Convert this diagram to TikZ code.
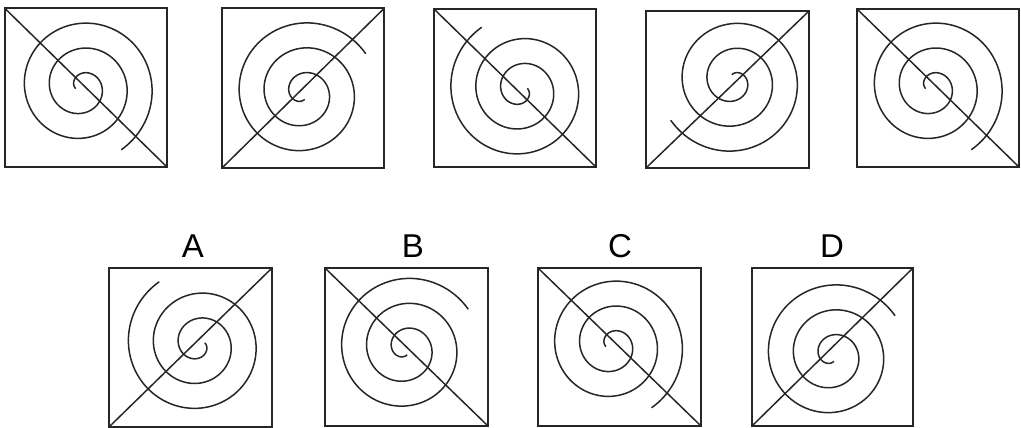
\documentclass[tikz,border=0pt]{standalone}
\usepackage{fontspec}
\setmainfont{Liberation Sans}
\tikzset{
  framebox/.style={draw=black!85, line width=2pt},
  diag/.style={draw=black!85, line width=1.5pt},
  spiralline/.style={draw=black!85, line width=1.5pt},
  lettr/.style={font=\fontsize{33}{33}\selectfont, anchor=base, inner sep=0pt}
}
\newcommand{\myspiral}[3]{%
  \draw[spiralline] plot[domain=-915:58, samples=300, variable=\t]
    ({#1 + (\t+1008)/360*25*cos(\t-90*#3)}, {#2 + (\t+1008)/360*25*sin(\t-90*#3)});
}
\begin{document}
\begin{tikzpicture}[x=1pt,y=-1pt]
\useasboundingbox (0,0) rectangle (1021,428);
% box 1
\coordinate (b1a) at (5,8.5); \coordinate (b1b) at (167,167);
\draw[framebox] (b1a) rectangle (b1b);
\draw[diag] (b1a) -- (b1b);
\myspiral{82}{87}{0}
% box 2
\coordinate (b2a) at (222,8.5); \coordinate (b2b) at (384,168);
\draw[framebox] (b2a) rectangle (b2b);
\draw[diag] (b2a |- b2b) -- (b2b |- b2a);
\myspiral{303}{93}{1}
% box 3
\coordinate (b3a) at (434,9); \coordinate (b3b) at (596,167);
\draw[framebox] (b3a) rectangle (b3b);
\draw[diag] (b3a) -- (b3b);
\myspiral{521}{90}{2}
% box 4
\coordinate (b4a) at (646,11); \coordinate (b4b) at (809,168);
\draw[framebox] (b4a) rectangle (b4b);
\draw[diag] (b4a |- b4b) -- (b4b |- b4a);
\myspiral{733.5}{81}{3}
% box 5
\coordinate (b5a) at (857,9); \coordinate (b5b) at (1019,167);
\draw[framebox] (b5a) rectangle (b5b);
\draw[diag] (b5a) -- (b5b);
\myspiral{932}{87}{0}
% A
\coordinate (bAa) at (109,268); \coordinate (bAb) at (272,427);
\draw[framebox] (bAa) rectangle (bAb);
\draw[diag] (bAa |- bAb) -- (bAb |- bAa);
\myspiral{198.5}{344.5}{2}
\node[lettr] (lA) at (193,257) {A};
% B
\coordinate (bBa) at (325,268); \coordinate (bBb) at (488,426);
\draw[framebox] (bBa) rectangle (bBb);
\draw[diag] (bBa) -- (bBb);
\myspiral{405.5}{348.5}{1}
\node[lettr] (lB) at (413,257) {B};
% C
\coordinate (bCa) at (538,268); \coordinate (bCb) at (701,426);
\draw[framebox] (bCa) rectangle (bCb);
\draw[diag] (bCa) -- (bCb);
\myspiral{612.3}{345}{0}
\node[lettr] (lC) at (620,257) {C};
% D
\coordinate (bDa) at (752,268); \coordinate (bDb) at (913,426);
\draw[framebox] (bDa) rectangle (bDb);
\draw[diag] (bDa |- bDb) -- (bDb |- bDa);
\myspiral{832.3}{355}{1}
\node[lettr] (lD) at (832,257) {D};
\end{tikzpicture}
\end{document}
